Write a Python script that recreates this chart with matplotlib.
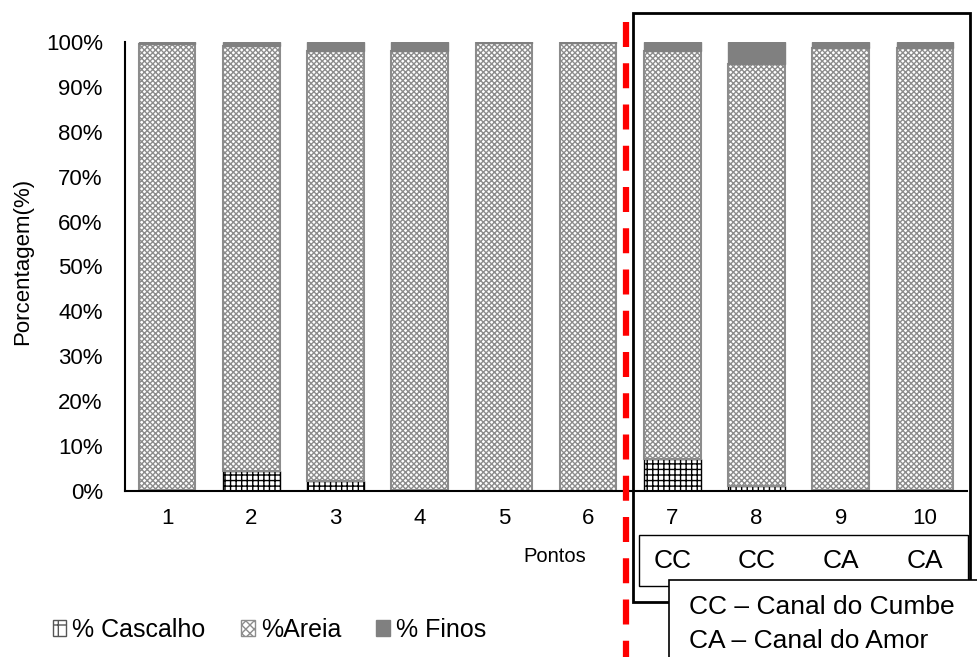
import matplotlib
matplotlib.use("Agg")
import matplotlib.pyplot as plt
from matplotlib.patches import Rectangle, Patch
from matplotlib.lines import Line2D
import numpy as np

plt.rcParams['font.family'] = ['Liberation Sans', 'DejaVu Sans']
plt.rcParams['hatch.linewidth'] = 1.0

pontos = ['1', '2', '3', '4', '5', '6', '7', '8', '9', '10']
canal = ['CC', 'CC', 'CA', 'CA']
cascalho = [0.3, 4.5, 2.3, 0.3, 0.0, 0.0, 7.2, 1.1, 0.2, 0.3]
finos = [0.5, 1.0, 2.0, 2.0, 0.3, 0.3, 2.0, 5.0, 1.3, 1.3]
areia = [100 - c - f for c, f in zip(cascalho, finos)]

W, H = 978, 657
fig = plt.figure(figsize=(W / 100, H / 100), dpi=100)
ax = fig.add_axes([125 / W, 1 - 491 / H, 842 / W, (491 - 42) / H])

x = np.arange(len(pontos))
bw = 0.67
casc = np.array(cascalho) / 100
are = np.array(areia) / 100
fin = np.array(finos) / 100

ax.bar(x, casc, bw, color='white', edgecolor='black', hatch='+++', linewidth=1.0, zorder=2)
ax.bar(x, are, bw, bottom=casc, color='white', edgecolor='#8c8c8c', hatch='xxxxxx', linewidth=1.5, zorder=2)
ax.bar(x, fin, bw, bottom=casc + are, color='#808080', edgecolor='#808080', linewidth=1.0, zorder=2)

ax.set_xlim(-0.5, 9.5)
ax.set_ylim(0, 1.0)
ax.set_yticks(np.arange(0, 1.01, 0.1))
ax.set_yticklabels([f'{int(round(v * 100))}%' for v in np.arange(0, 1.01, 0.1)], fontsize=16)
ax.set_xticks(x)
ax.set_xticklabels(pontos, fontsize=16)
ax.tick_params(axis='y', length=0, pad=16)
ax.tick_params(axis='x', length=0, pad=12)
for s in ['top', 'right']:
    ax.spines[s].set_visible(False)
for s in ['left', 'bottom']:
    ax.spines[s].set_linewidth(1.5)
    ax.spines[s].set_color('black')

# axis titles
fig.text(23 / W, 1 - 261 / H, 'Porcentagem(%)', fontsize=16, rotation=90, ha='center', va='center')
fig.text(555 / W, 1 - 556 / H, 'Pontos', fontsize=14.5, ha='center', va='center')

# red dashed separator
fig.add_artist(Line2D([626 / W, 626 / W], [1 - 22 / H, 0], color='#ff0000', lw=4.5,
                      linestyle=(0, (4.0, 2.6))))

# big black rectangle
fig.add_artist(Rectangle((633 / W, 1 - 602 / H), (970 - 633) / W, (602 - 13) / H,
                         transform=fig.transFigure, fill=False, edgecolor='black', lw=2))

# inner box with channel codes
fig.add_artist(Rectangle((639 / W, 1 - 586 / H), (968 - 639) / W, (586 - 535) / H,
                         transform=fig.transFigure, facecolor='white', edgecolor='black', lw=1))
for i, c in enumerate(canal):
    xd = ax.transData.transform((6 + i, 0))[0]
    fig.text(xd / W, 1 - 561 / H, c, fontsize=19, ha='center', va='center')

# channel legend box
fig.add_artist(Rectangle((669 / W, 1 - 700 / H), (990 - 669) / W, (700 - 580) / H,
                         transform=fig.transFigure, facecolor='white', edgecolor='black', lw=1.2))
fig.text(689 / W, 1 - 607 / H, 'CC – Canal do Cumbe', fontsize=19, ha='left', va='center')
fig.text(689 / W, 1 - 641 / H, 'CA – Canal do Amor', fontsize=19, ha='left', va='center')

# series legend
handles = [Patch(facecolor='white', edgecolor='#555555', hatch='+'),
           Patch(facecolor='white', edgecolor='#8c8c8c', hatch='xxxx'),
           Patch(facecolor='#808080', edgecolor='#808080')]
fig.legend(handles, ['% Cascalho', '%Areia', '% Finos'], loc='center left',
           bbox_to_anchor=(30 / W, 1 - 630 / H), ncol=3, frameon=False, fontsize=18,
           handlelength=0.55, handleheight=0.6, handletextpad=0.25, columnspacing=1.4)

fig.savefig('out.png', dpi=100)
